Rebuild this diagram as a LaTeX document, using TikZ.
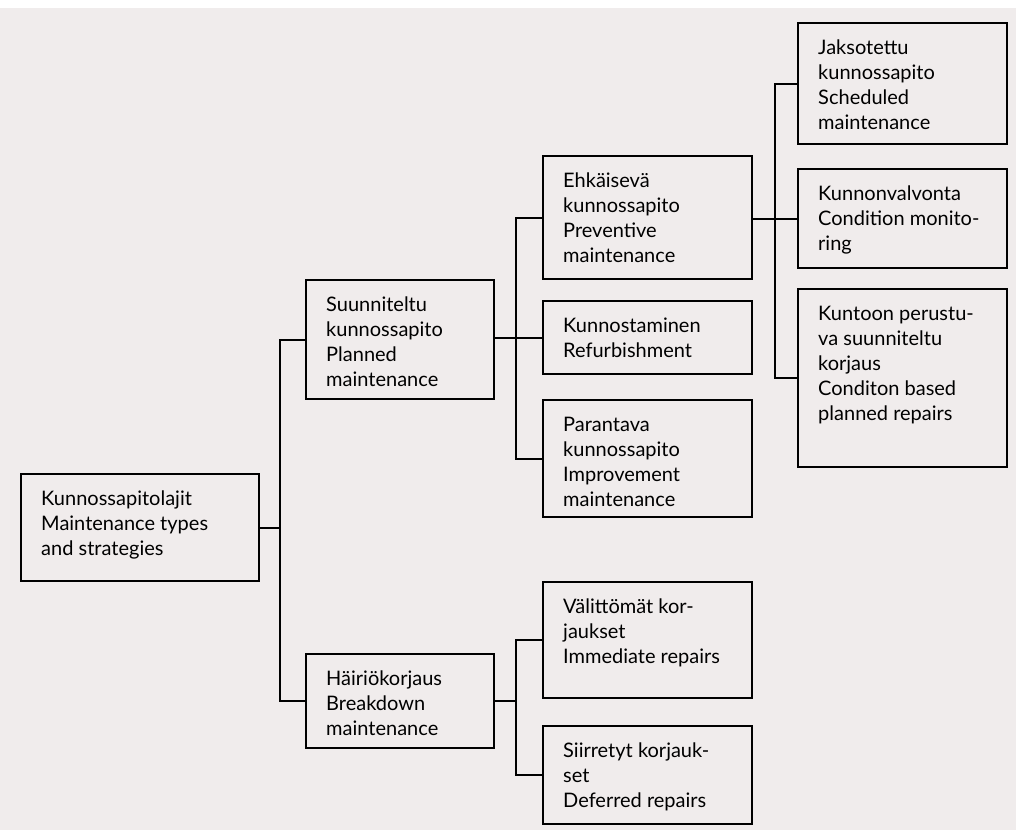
\documentclass[tikz,border=0pt]{standalone}
\usepackage{fontspec}
\setmainfont{Lato}
\begin{document}
\begin{tikzpicture}[x=1pt,y=-1pt,
  kbox/.style={draw=black, line width=2pt, rectangle, inner sep=0pt, anchor=north west},
  ktext/.style={inner sep=0pt, anchor=base west,
    font=\fontsize{20}{25}\selectfont, text=black},
  link/.style={draw=black, line width=2pt}]
% paper
\fill[fill={rgb,255:red,240;green,236;blue,236}] (0,0) rectangle (1016,830);
\fill[white] (0,0) rectangle (1016,8);
\useasboundingbox (0,0) rectangle (1016,830);

% box with its text set from the top left corner
\newcommand\kbx[6]{%
  \node[kbox, minimum width=#4pt, minimum height=#5pt] (#1) at (#2,#3) {};
  \node[ktext] (#1-t) at ([shift={(21,32)}]#1.north west)
    {\parbox[t]{190pt}{\raggedright #6}};}

\kbx{root}{20}{473}{238}{107}{Kunnossapitolajit\\Maintenance types\\and strategies}
\kbx{sun}{305}{279}{188}{119}{Suunniteltu\\kunnossapito\\Planned\\maintenance}
\kbx{hai}{305}{653}{188}{94}{Häiriökorjaus\\Breakdown\\maintenance}
\kbx{ehk}{542}{155}{209}{123}{Ehkäisevä\\kunnossapito\\Preventive\\maintenance}
\kbx{kun}{542}{300}{209}{73}{Kunnostaminen\\Refurbishment}
\kbx{par}{542}{399}{209}{117}{Parantava\\kunnossapito\\Improvement\\maintenance}
\kbx{val}{542}{581}{209}{116}{Välittömät kor-\\jaukset\\Immediate repairs}
\kbx{sii}{542}{725}{209}{98}{Siirretyt korjauk-\\set\\Deferred repairs}
\kbx{jak}{797}{22}{209}{121}{Jaksotettu\\kunnossapito\\Scheduled\\maintenance}
\kbx{kva}{797}{168}{209}{99}{Kunnonvalvonta\\Condition monito-\\ring}
\kbx{kpe}{797}{288}{209}{178}{Kuntoon perustu-\\va suunniteltu\\korjaus\\Conditon based\\planned repairs}

% branch points
\coordinate (j1) at (280,0);
\coordinate (j2) at (516,0);
\coordinate (j3) at (775,0);

% connectors
\draw[link] (root.east) -- (root.east -| j1);
\draw[link] (sun.west) -- (sun.west -| j1) -- (hai.west -| j1) -- (hai.west);
\draw[link] (kun.west -| sun.east) -- (kun.west);
\draw[link] (ehk.west) -- (ehk.west -| j2) -- (par.west -| j2) -- (par.west);
\draw[link] (hai.east) -- (hai.east -| j2);
\draw[link] (val.west) -- (val.west -| j2) -- (sii.west -| j2) -- (sii.west);
\draw[link] (kva.west -| ehk.east) -- (kva.west);
\draw[link] (jak.west) -- (jak.west -| j3) -- (kpe.west -| j3) -- (kpe.west);
\end{tikzpicture}
\end{document}
